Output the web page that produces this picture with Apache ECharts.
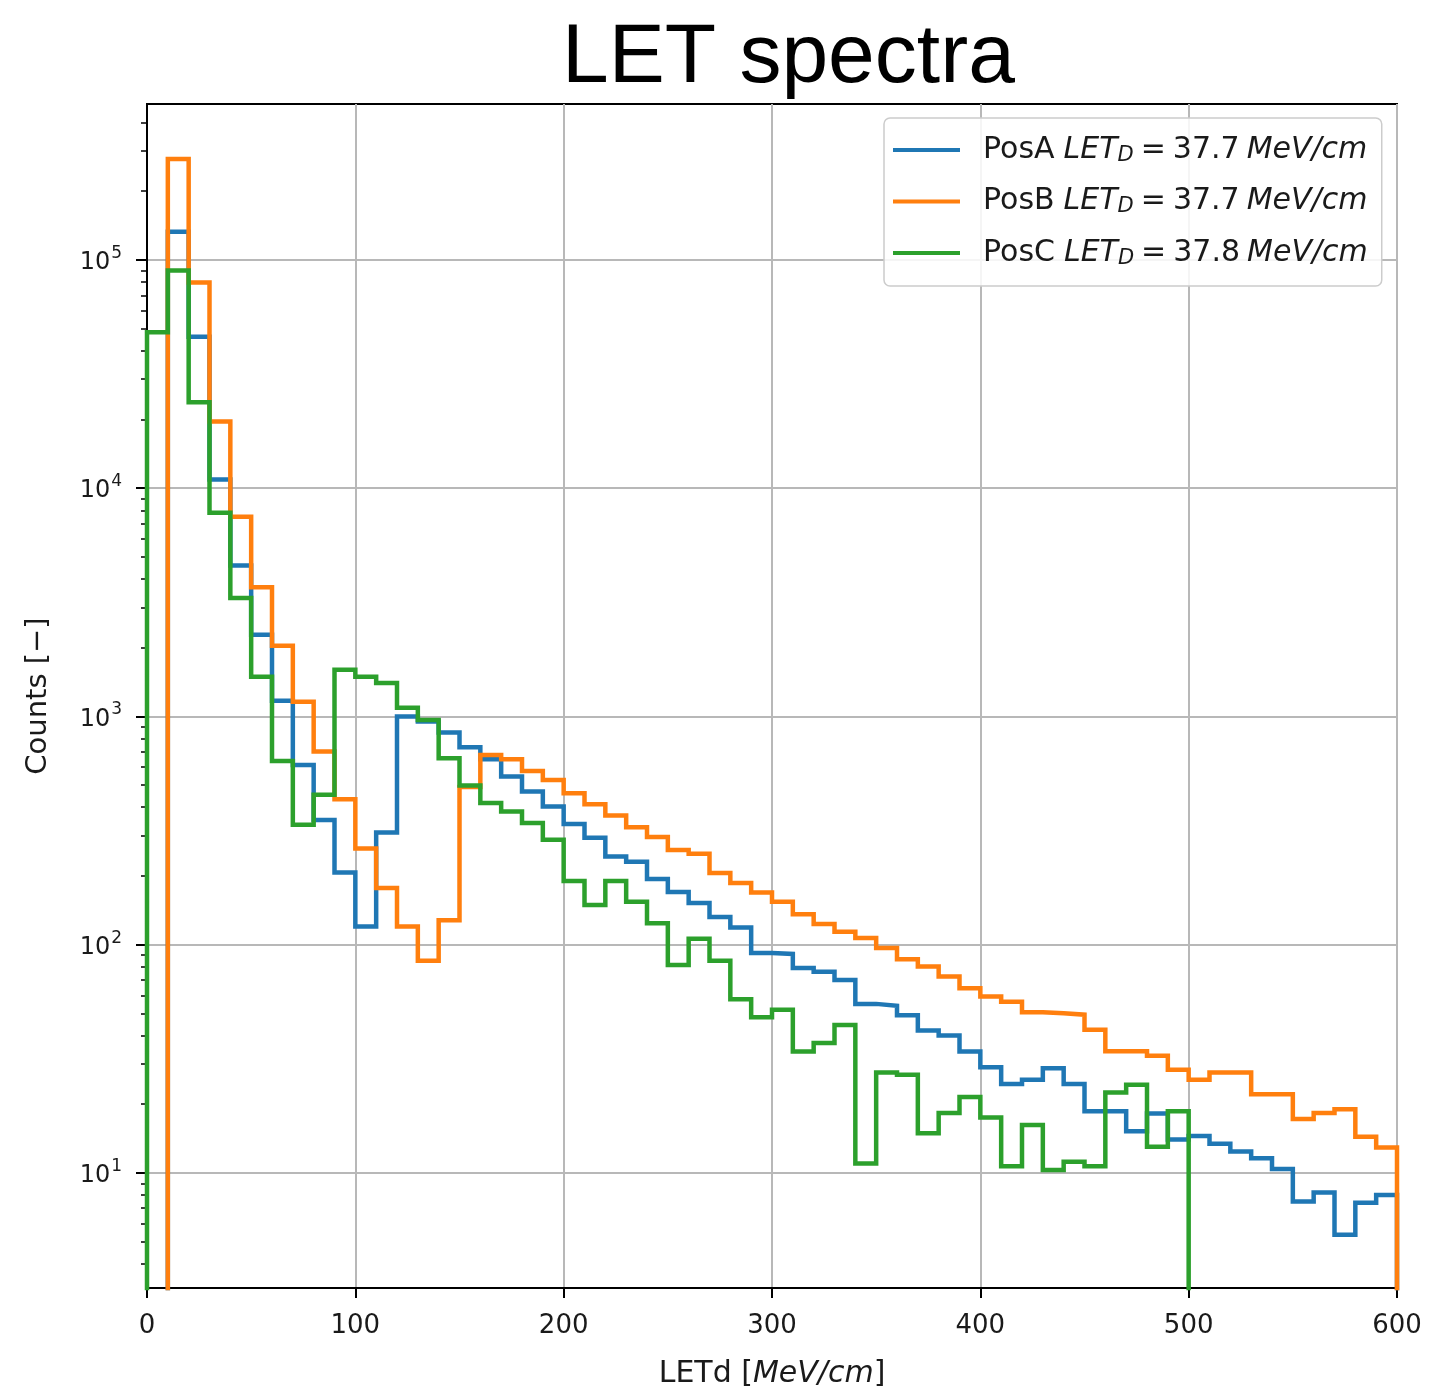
<!DOCTYPE html>
<html>
<head>
<meta charset="utf-8">
<title>LET spectra</title>
<script src="https://cdn.jsdelivr.net/npm/echarts@6/dist/echarts.min.js"></script>
<style>
  html, body { margin: 0; padding: 0; background: #ffffff; }
  #chart { width: 1433px; height: 1398px; }
</style>
</head>
<body>
<div id="chart"></div>
<script>
// Histogram bins: 10 MeV/cm wide, starting at 0
const binWidth = 10;

const seriesNames = ['PosA', 'PosB', 'PosC'];
const letDValues = ['37.7', '37.7', '37.8'];
const seriesColors = ['#1f77b4', '#ff7f0e', '#2ca02c'];

// Counts per bin (60 bins, 0-600 MeV/cm)
const posA = [
  0, 133000, 46000, 10900, 4580, 2280, 1170, 613, 352, 207,
  120, 310, 1000, 949, 849, 733, 649, 545, 469, 403,
  338, 294, 243, 231, 194, 170, 152, 132, 119, 92,
  91, 79, 76, 70, 55, 54, 49, 42, 40, 34,
  29, 24.5, 25.6, 28.7, 24.5, 18.6, 18.6, 15.2, 18.2, 14.0,
  14.5, 13.4, 12.4, 11.6, 10.4, 7.5, 8.2, 5.35, 7.4, 8.0
];
const posB = [
  0, 277000, 79600, 19600, 7500, 3680, 2040, 1160, 701, 433,
  264, 177, 120, 85, 128, 490, 678, 649, 577, 527,
  461, 412, 368, 327, 296, 260, 250, 206, 186, 169,
  154, 136, 123, 114, 107, 96.6, 86.3, 80.1, 72.5, 64.4,
  59.2, 56.2, 50.6, 50.0, 49.3, 42.4, 34.1, 34.1, 32.6, 28.3,
  25.6, 27.5, 27.5, 22.1, 22.1, 17.2, 18.3, 19.0, 14.4, 12.9
];
const posC = [
  48200, 89800, 23800, 7800, 3300, 1490, 638, 335, 453, 1600,
  1490, 1400, 1090, 965, 656, 498, 417, 383, 341, 288,
  190, 149, 190, 154, 124, 81.4, 106, 85, 57.6, 48.1,
  51.8, 34, 37.1, 44.5, 11.0, 27.5, 26.9, 14.9, 18.3, 21.5,
  17.5, 10.7, 16.2, 10.3, 11.2, 10.7, 22.5, 24.3, 13.0, 18.6,
  0, 0, 0, 0, 0, 0, 0, 0, 0, 0
];

const xTicks = [0, 100, 200, 300, 400, 500, 600];
const yMajorTicks = [10, 100, 1000, 10000, 100000];
const yMinorTicks = [
  4, 5, 6, 7, 8, 9,
  20, 30, 40, 50, 60, 70, 80, 90,
  200, 300, 400, 500, 600, 700, 800, 900,
  2000, 3000, 4000, 5000, 6000, 7000, 8000, 9000,
  20000, 30000, 40000, 50000, 60000, 70000, 80000, 90000,
  200000, 300000, 400000
];
const yRange = [3.13, 482000];
const xRange = [0, 600];

// Empty bins cannot sit on a log axis: park them below the visible range
const FLOOR = 1;
function stepOutline(counts) {
  const pts = [[0, FLOOR]];
  counts.forEach((c, i) => pts.push([i * binWidth, c > 0 ? c : FLOOR]));
  const end = counts.length * binWidth;
  const last = counts[counts.length - 1];
  pts.push([end, last > 0 ? last : FLOOR]);
  pts.push([end, FLOOR]);
  return pts;
}

const chart = echarts.init(document.getElementById('chart'), null, { renderer: 'canvas' });
const sans = 'DejaVu Sans';
const textColor = '#1a1a1a';
const allCounts = [posA, posB, posC];
const legendFont = 30;

const option = {
  animation: false,
  backgroundColor: '#ffffff',
  title: {
    text: 'LET spectra',
    left: 557,
    top: 12,
    textStyle: { fontFamily: 'Liberation Sans', fontSize: 84, fontWeight: 'normal', color: '#000000' }
  },
  grid: {
    left: 147, right: 36, top: 104, bottom: 110,
    show: true, borderColor: '#000000', borderWidth: 2, backgroundColor: 'transparent'
  },
  legend: {
    orient: 'vertical',
    left: 884,
    top: 118,
    padding: [17, 14, 17, 9],
    itemGap: 20.5,
    itemWidth: 67,
    itemHeight: 4,
    icon: 'rect',
    backgroundColor: 'rgba(255,255,255,0.85)',
    borderColor: '#cccccc',
    borderWidth: 1.5,
    borderRadius: 6,
    data: seriesNames,
    formatter: function (name) {
      const v = letDValues[seriesNames.indexOf(name)];
      return '{a|' + name + '}{i|LET}{s|D}{eq|=}{v|' + v + '}{i|MeV/cm}';
    },
    textStyle: {
      padding: [0, 0, 0, 18],
      color: textColor,
      rich: {
        a: { fontFamily: sans, fontSize: legendFont, color: textColor, lineHeight: 32, padding: [0, 9, 0, 0] },
        i: { fontFamily: sans, fontStyle: 'italic', fontSize: legendFont, color: textColor, lineHeight: 32 },
        eq: { fontFamily: sans, fontSize: legendFont, color: textColor, lineHeight: 32, padding: [0, 7, 0, 7] },
        v: { fontFamily: sans, fontSize: legendFont, color: textColor, lineHeight: 32, padding: [0, 7, 0, 0] },
        s: { fontFamily: sans, fontStyle: 'italic', fontSize: 21, color: textColor, lineHeight: 20, verticalAlign: 'bottom' }
      }
    }
  },
  xAxis: {
    type: 'value',
    min: xRange[0],
    max: xRange[1],
    interval: 100,
    name: 'LETd [{i|MeV/cm}]',
    nameLocation: 'middle',
    nameGap: 71,
    nameTextStyle: {
      fontFamily: sans, fontSize: 30, color: textColor,
      rich: { i: { fontFamily: sans, fontStyle: 'italic', fontSize: 30, color: textColor } }
    },
    axisLine: { show: true, onZero: false, lineStyle: { color: '#000000', width: 2 } },
    axisTick: { show: true, length: 10, lineStyle: { color: '#000000', width: 2 } },
    axisLabel: {
      fontFamily: sans, fontSize: 26, color: textColor, margin: 25,
      customValues: xTicks,
      formatter: v => String(v)
    },
    splitLine: { show: true, lineStyle: { color: '#b8b8b8', width: 2 } }
  },
  yAxis: [
    {
      type: 'log',
      logBase: 10,
      min: yRange[0],
      max: yRange[1],
      name: 'Counts [\u2212]',
      nameLocation: 'middle',
      nameGap: 94,
      nameRotate: 90,
      nameTextStyle: { fontFamily: sans, fontSize: 29, color: textColor },
      axisLine: { show: true, onZero: false, lineStyle: { color: '#000000', width: 2 } },
      axisTick: { show: true, length: 11, customValues: yMajorTicks, lineStyle: { color: '#000000', width: 2 } },
      axisLabel: {
        color: textColor, margin: 25,
        customValues: yMajorTicks,
        formatter: function (v) {
          const e = Math.round(Math.log10(v));
          if (Math.abs(Math.pow(10, e) - v) > 1e-6 * v) return '';
          return '{b|10}{e|' + e + '}';
        },
        rich: {
          b: { fontFamily: sans, fontSize: 24, color: textColor, lineHeight: 30, padding: [6, 1, 0, 0] },
          e: { fontFamily: sans, fontSize: 17, color: textColor, lineHeight: 17, verticalAlign: 'top' }
        }
      },
      splitLine: { show: true, lineStyle: { color: '#b8b8b8', width: 2 } }
    },
    {
      type: 'log',
      logBase: 10,
      min: yRange[0],
      max: yRange[1],
      position: 'left',
      axisLine: { show: false },
      axisTick: { show: true, length: 6, customValues: yMinorTicks, lineStyle: { color: '#000000', width: 1.5 } },
      axisLabel: { show: false },
      splitLine: { show: false }
    }
  ],
  series: seriesNames.map((name, k) => ({
    name: name,
    type: 'line',
    step: 'end',
    xAxisIndex: 0,
    yAxisIndex: 0,
    symbol: 'none',
    clip: true,
    data: stepOutline(allCounts[k]),
    color: seriesColors[k],
    lineStyle: { color: seriesColors[k], width: 4.5, join: 'miter' },
    itemStyle: { color: seriesColors[k] },
    z: 2 + k
  }))
};

chart.setOption(option);
</script>
</body>
</html>
